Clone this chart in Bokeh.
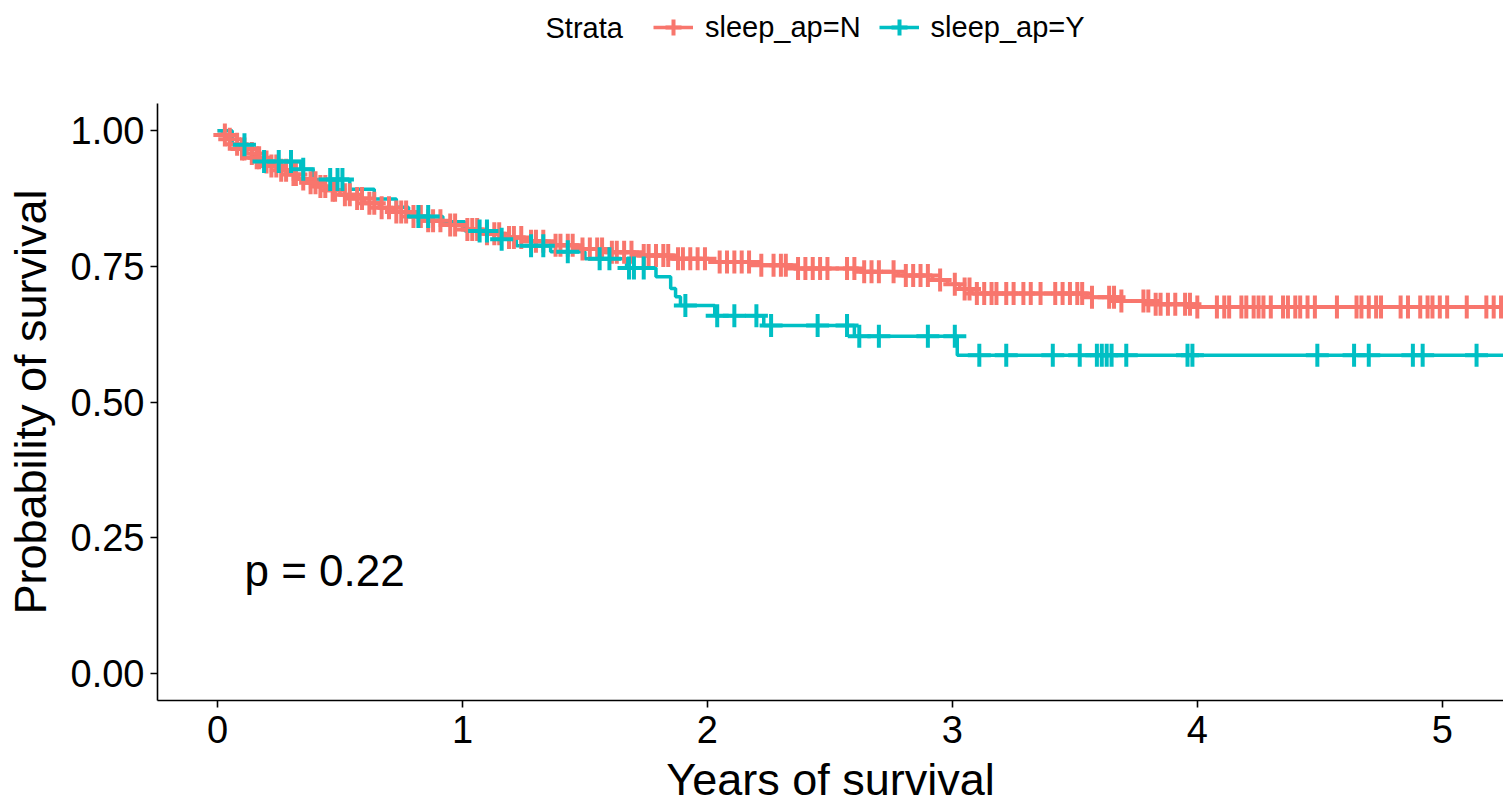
import numpy as np
from bokeh.plotting import figure
from bokeh.layouts import column
from bokeh.models import Range1d, Legend, LegendItem, FixedTicker, Label
from bokeh.embed import file_html
from bokeh.resources import INLINE

# Kaplan-Meier estimates by sleep apnoea status (years of follow-up)
strata_title = "Strata"
strata_labels = ["sleep_ap=N", "sleep_ap=Y"]
strata_colors = ["#F8766D", "#00BFC4"]
followup_end = 5.3

# sleep_ap = N : event times and survival after each event
n_times = [0.02, 0.04, 0.06, 0.09, 0.12, 0.15, 0.18, 0.21, 0.25, 0.29, 0.33, 0.37,
           0.41, 0.45, 0.50, 0.55, 0.60, 0.66, 0.72, 0.78, 0.85, 0.93, 1.00, 1.08,
           1.17, 1.26, 1.36, 1.47, 1.58, 1.72, 1.86, 2.02, 2.20, 2.35, 2.62, 2.78,
           2.92, 2.98, 3.03, 3.08, 3.55, 3.68, 3.82, 3.98]
n_surv = [0.992, 0.984, 0.975, 0.966, 0.958, 0.950, 0.942, 0.935, 0.927, 0.919, 0.911, 0.904,
          0.897, 0.890, 0.882, 0.875, 0.866, 0.858, 0.850, 0.842, 0.834, 0.826, 0.818, 0.810,
          0.803, 0.796, 0.789, 0.782, 0.776, 0.770, 0.764, 0.758, 0.752, 0.746, 0.740, 0.733,
          0.725, 0.717, 0.708, 0.700, 0.693, 0.686, 0.680, 0.675]
n_censor = [0.03, 0.05, 0.08, 0.10, 0.11, 0.14, 0.16, 0.17, 0.20, 0.22, 0.24, 0.26, 0.28,
            0.31, 0.32, 0.35, 0.38, 0.40, 0.42, 0.44, 0.47, 0.48, 0.52, 0.54, 0.57, 0.59,
            0.62, 0.64, 0.67, 0.70, 0.73, 0.75, 0.77, 0.80, 0.83, 0.86, 0.88, 0.91, 0.95,
            0.97, 1.02, 1.04, 1.06, 1.10, 1.13, 1.15, 1.19, 1.21, 1.24, 1.28, 1.30, 1.33,
            1.38, 1.40, 1.43, 1.45, 1.49, 1.52, 1.55, 1.57, 1.61, 1.63, 1.66, 1.69, 1.74,
            1.76, 1.79, 1.82, 1.84, 1.88, 1.90, 1.93, 1.96, 1.99, 2.05, 2.08, 2.11, 2.14,
            2.17, 2.22, 2.27, 2.30, 2.32, 2.37, 2.40, 2.43, 2.46, 2.49, 2.57, 2.60, 2.64,
            2.67, 2.70, 2.76, 2.81, 2.84, 2.87, 2.90, 2.95, 3.01, 3.05, 3.07, 3.10, 3.13,
            3.16, 3.18, 3.22, 3.25, 3.29, 3.32, 3.36, 3.42, 3.45, 3.48, 3.51, 3.53, 3.57,
            3.64, 3.66, 3.69, 3.78, 3.80, 3.83, 3.85, 3.88, 3.91, 3.95, 3.97, 4.00, 4.08,
            4.11, 4.13, 4.18, 4.20, 4.23, 4.25, 4.27, 4.30, 4.35, 4.37, 4.40, 4.42, 4.45,
            4.48, 4.57, 4.65, 4.67, 4.70, 4.73, 4.75, 4.83, 4.86, 4.91, 4.94, 4.96, 4.99,
            5.02, 5.10, 5.18, 5.21, 5.24]

# sleep_ap = Y
y_times = [0.06, 0.14, 0.34, 0.39, 0.54, 0.64, 0.73, 0.78, 0.92, 1.01, 1.13, 1.22,
           1.36, 1.50, 1.67, 1.79, 1.85, 1.87, 1.89, 2.03, 2.23, 2.60, 3.02]
y_surv = [0.974, 0.943, 0.929, 0.910, 0.892, 0.874, 0.859, 0.842, 0.832, 0.815, 0.800, 0.788,
          0.777, 0.764, 0.747, 0.731, 0.709, 0.694, 0.678, 0.659, 0.641, 0.621, 0.586]
y_censor = [0.11, 0.19, 0.25, 0.30, 0.35, 0.46, 0.49, 0.51, 0.82, 0.86, 1.07, 1.10, 1.16,
            1.28, 1.33, 1.43, 1.56, 1.60, 1.68, 1.70, 1.74, 1.91, 2.04, 2.11, 2.20, 2.26,
            2.45, 2.57, 2.62, 2.70, 2.90, 3.01, 3.11, 3.22, 3.41, 3.52, 3.59, 3.61, 3.63,
            3.65, 3.71, 3.96, 3.98, 4.49, 4.64, 4.70, 4.88, 4.92, 5.14]

x_ticks = [0, 1, 2, 3, 4, 5]
y_ticks = [0.0, 0.25, 0.5, 0.75, 1.0]
y_tick_labels = {0.0: "0.00", 0.25: "0.25", 0.5: "0.50", 0.75: "0.75", 1.0: "1.00"}
p_value_text = "p = 0.22"

FONT = "Liberation Sans"
LINE_W = 3.5
MARK_SIZE = 23
MARK_W = 4
PANEL_LEFT = 157          # left border of the survival panel, px
STRIP_W, STRIP_H = 1503, 56


def step_path(times, surv):
    xs = [0.0] + list(times) + [followup_end]
    ys = [1.0] + list(surv) + [surv[-1]]
    return xs, ys


def surv_at(times, surv, t):
    full = np.concatenate([[1.0], surv])
    idx = np.searchsorted(np.asarray(times), np.asarray(t), side="right")
    return full[idx]


series = [(n_times, n_surv, n_censor), (y_times, y_surv, y_censor)]

# ---- main survival panel ----
p = figure(width=1503, height=751, output_backend="svg", toolbar_location=None,
           x_range=Range1d(-0.245, 5.25), y_range=Range1d(-0.05, 1.05),
           min_border_left=PANEL_LEFT, min_border_right=0, min_border_top=47,
           min_border_bottom=104, background_fill_color="white",
           border_fill_color="white")
p.outline_line_color = None
p.xgrid.visible = False
p.ygrid.visible = False

for (times, surv, _), color in zip(series, strata_colors):
    xs, ys = step_path(times, surv)
    p.step(xs, ys, mode="after", line_color=color, line_width=LINE_W)

for (times, surv, cens), color in zip(series, strata_colors):
    cy = surv_at(times, surv, cens)
    p.scatter(cens, cy, marker="cross", size=MARK_SIZE, line_color=color, line_width=MARK_W)

for ax in (p.xaxis[0], p.yaxis[0]):
    ax.axis_line_color = "black"
    ax.axis_line_width = 1.6
    ax.major_tick_line_color = "black"
    ax.major_tick_line_width = 1.6
    ax.major_tick_out = 7
    ax.major_tick_in = 0
    ax.minor_tick_line_color = None
    ax.major_label_text_font = FONT
    ax.major_label_text_font_size = "38px"
    ax.major_label_text_color = "black"
    ax.axis_label_text_font = FONT
    ax.axis_label_text_font_size = "45px"
    ax.axis_label_text_font_style = "normal"
    ax.axis_label_text_color = "black"

p.xaxis.ticker = FixedTicker(ticks=x_ticks)
p.yaxis.ticker = FixedTicker(ticks=y_ticks)
p.yaxis.major_label_overrides = y_tick_labels
p.xaxis.axis_label = "Years of survival"
p.yaxis.axis_label = "Probability of survival"
p.xaxis.major_label_standoff = 8
p.yaxis.major_label_standoff = 6
p.xaxis.axis_label_standoff = 8
p.yaxis.axis_label_standoff = 12

p.add_layout(Label(x=0.11, y=0.19, text=p_value_text, text_font=FONT,
                   text_font_size="44px", text_baseline="middle",
                   text_align="left", text_color="black"))

# ---- legend strip above the panel ----
# The strip's frame is aligned with the panel's frame (x from PANEL_LEFT to the right
# edge); its ranges are in page pixels.  The strata curves are added to it only so the
# legend can draw their keys: in these ranges they fall outside the visible frame.
leg = figure(width=STRIP_W, height=STRIP_H, output_backend="svg", toolbar_location=None,
             x_range=Range1d(PANEL_LEFT, STRIP_W), y_range=Range1d(0, STRIP_H),
             min_border_left=0, min_border_right=0, min_border_top=0,
             min_border_bottom=0, background_fill_color="white",
             border_fill_color="white")
leg.axis.visible = False
leg.xgrid.visible = False
leg.ygrid.visible = False
leg.outline_line_color = None

leg.add_layout(Label(x=545, y=STRIP_H - 27, text=strata_title, text_font=FONT,
                     text_font_size="29px", text_baseline="middle",
                     text_align="left", text_color="black"))

items = []
for (times, surv, cens), lab, color in zip(series, strata_labels, strata_colors):
    xs, ys = step_path(times, surv)
    lr = leg.step(xs, ys, mode="after", line_color=color, line_width=LINE_W)
    mr = leg.scatter(cens, surv_at(times, surv, cens), marker="cross", size=MARK_SIZE,
                     line_color=color, line_width=MARK_W)
    items.append(LegendItem(label=lab, renderers=[lr, mr]))

legend = Legend(items=items, orientation="horizontal",
                location=(653 - PANEL_LEFT, 4),
                label_text_font=FONT, label_text_font_size="29px",
                label_text_color="black",
                glyph_width=40, glyph_height=50, label_standoff=12, spacing=18,
                padding=0, margin=0, border_line_color=None,
                background_fill_alpha=0)
leg.add_layout(legend, "center")

layout = column(leg, p, spacing=0)
open("out.html", "w").write(file_html(layout, INLINE))
